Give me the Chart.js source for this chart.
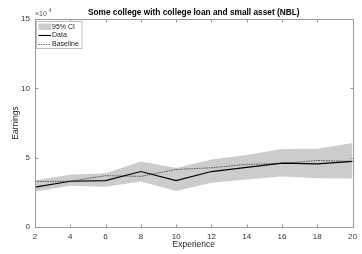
<!DOCTYPE html>
<html><head><meta charset="utf-8">
<script src="https://cdn.jsdelivr.net/npm/chart.js@4"></script>
<style>html,body{margin:0;padding:0;background:#fff}#wrap{width:362px;height:254px}</style>
</head><body><div id="wrap"><canvas id="c" width="362" height="254"></canvas></div>
<script>
const experience = [2, 4, 6, 8, 10, 12, 14, 16, 18, 20];
const dataEarnings = [28800, 33000, 33500, 40000, 33500, 40000, 43000, 46000, 45500, 47300];
const baselineEarnings = [32800, 33000, 37000, 36500, 41500, 42700, 45200, 45800, 48000, 47300];
const ciUpper = [33700, 37600, 38800, 47200, 42600, 48700, 52000, 56300, 56500, 60500];
const ciLower = [25600, 29800, 29000, 32900, 26000, 32000, 34200, 36400, 35100, 34900];
const yTicks = [0, 50000, 100000, 150000];
const titleText = 'Some college with college loan and small asset (NBL)';
const xLabel = 'Experience';
const yLabel = 'Earnings';
const legendLabels = ['95% CI', 'Data', 'Baseline'];

const pts = arr => experience.map((x, i) => ({x: x, y: arr[i]}));
const FONT = '"Liberation Sans", Arial, Helvetica, sans-serif';
const AXIS = '#9a9a9a';

const deco = {
  id: 'deco',
  afterDraw(chart) {
    const {ctx, chartArea: a, scales} = chart;
    ctx.save();
    ctx.strokeStyle = AXIS; ctx.lineWidth = 1;
    const L = Math.round(a.left) + 0.5, R = Math.round(a.right) + 0.5, T = Math.round(a.top) + 0.5, B = Math.round(a.bottom) + 0.5;
    ctx.strokeRect(L, T, R - L, B - T);
    ctx.beginPath();
    experience.forEach(v => {
      const px = Math.round(scales.x.getPixelForValue(v)) + 0.5;
      ctx.moveTo(px, B); ctx.lineTo(px, B - 3);
      ctx.moveTo(px, T); ctx.lineTo(px, T + 3);
    });
    yTicks.forEach(v => {
      const py = Math.round(scales.y.getPixelForValue(v)) + 0.5;
      ctx.moveTo(L, py); ctx.lineTo(L + 3, py);
      ctx.moveTo(R, py); ctx.lineTo(R - 3, py);
    });
    ctx.stroke();
    ctx.fillStyle = '#000';
    ctx.font = 'bold 8.3px ' + FONT;
    ctx.textAlign = 'center'; ctx.textBaseline = 'middle';
    ctx.fillText(titleText, (a.left + a.right) / 2, 13);
    ctx.fillStyle = '#262626';
    ctx.font = '8.5px ' + FONT;
    ctx.fillText(xLabel, (a.left + a.right) / 2, 245);
    ctx.save();
    ctx.translate(16, (a.top + a.bottom) / 2);
    ctx.rotate(-Math.PI / 2);
    ctx.fillText(yLabel, 0, 0);
    ctx.restore();
    ctx.font = '7px ' + FONT; ctx.textAlign = 'left'; ctx.fillStyle = '#555';
    ctx.fillText('\u00d710', 35, 14.5);
    ctx.font = '5px ' + FONT;
    ctx.fillText('4', 48.5, 11);
    const lx = 36.5, ly = 21.5, lw = 45.5, lh = 27;
    ctx.fillStyle = '#fff'; ctx.fillRect(lx, ly, lw, lh);
    ctx.strokeStyle = '#b0b0b0'; ctx.lineWidth = 0.8; ctx.strokeRect(lx, ly, lw, lh);
    ctx.fillStyle = '#cccccc'; ctx.fillRect(38.5, 23.5, 12.5, 6.5);
    ctx.strokeStyle = '#000'; ctx.lineWidth = 1.1;
    ctx.beginPath(); ctx.moveTo(38.5, 35.5); ctx.lineTo(51, 35.5); ctx.stroke();
    ctx.strokeStyle = '#444'; ctx.lineWidth = 0.8; ctx.setLineDash([1.5, 1]);
    ctx.beginPath(); ctx.moveTo(38.5, 44.5); ctx.lineTo(51, 44.5); ctx.stroke();
    ctx.setLineDash([]);
    ctx.fillStyle = '#222'; ctx.font = '7px ' + FONT; ctx.textBaseline = 'middle';
    ctx.fillText(legendLabels[0], 52, 27);
    ctx.fillText(legendLabels[1], 52, 35.5);
    ctx.fillText(legendLabels[2], 52, 44.5);
    ctx.restore();
  }
};

new Chart(document.getElementById('c'), {
  type: 'line',
  data: {
    datasets: [
      {label: 'upper', order: 3, data: pts(ciUpper), borderWidth: 0, pointRadius: 0, fill: '+1', backgroundColor: '#cccccc', borderColor: 'rgba(0,0,0,0)', tension: 0},
      {label: 'lower', order: 4, data: pts(ciLower), borderWidth: 0, pointRadius: 0, fill: false, borderColor: 'rgba(0,0,0,0)', tension: 0},
      {label: 'Baseline', order: 1, data: pts(baselineEarnings), borderColor: '#333', borderWidth: 0.8, borderDash: [1.5, 1], pointRadius: 0, fill: false, tension: 0},
      {label: 'Data', order: 0, data: pts(dataEarnings), borderColor: '#000', borderWidth: 1.2, pointRadius: 0, fill: false, tension: 0}
    ]
  },
  options: {
    responsive: false, animation: false, devicePixelRatio: 1,
    layout: {padding: {left: 0, right: 7, top: 19, bottom: 0}},
    plugins: {legend: {display: false}, tooltip: {enabled: false}, title: {display: false}},
    scales: {
      x: {
        type: 'linear', min: 2, max: 20,
        grid: {display: false, drawTicks: false}, border: {display: false},
        ticks: {stepSize: 2, padding: 5, color: '#333', font: {family: FONT, size: 8}, maxRotation: 0, autoSkip: false},
        afterFit(s) { s.height = 27; }
      },
      y: {
        min: 0, max: 150000,
        grid: {display: false, drawTicks: false}, border: {display: false},
        afterBuildTicks(s) { s.ticks = yTicks.map(v => ({value: v})); },
        ticks: {padding: 5, color: '#333', font: {family: FONT, size: 8}, callback: v => String(v / 10000)},
        afterFit(s) { s.width = 35; }
      }
    }
  },
  plugins: [deco]
});
</script>
</body></html>
